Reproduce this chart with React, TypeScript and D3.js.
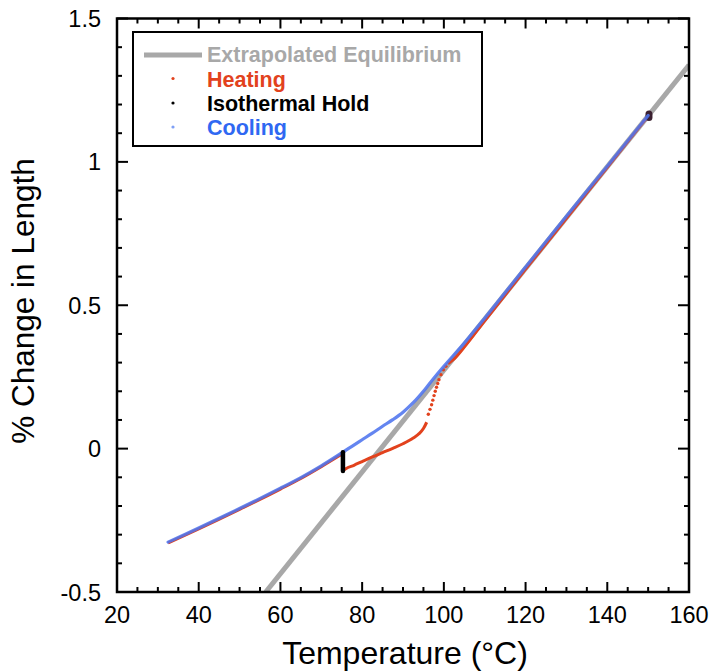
import React from "react";
import * as d3 from "d3";

// Dilatometry of a glass-forming sample: % change in length vs temperature
const xTicks = [20, 40, 60, 80, 100, 120, 140, 160];
const yTicks = [-0.5, 0, 0.5, 1, 1.5];
const yTickLabels = ["-0.5", "0", "0.5", "1", "1.5"];

// Extrapolated equilibrium (liquid) line
const equilibriumTemp = [56.4, 160];
const equilibriumValue = [-0.5, 1.338];

// Heating: glass branch up to the hold
const heatGlassTemp = [32.5, 40, 50, 60, 65, 70, 75.2];
const heatGlassValue = [-0.329, -0.28, -0.212, -0.141, -0.104, -0.063, -0.018];

// Heating after the isothermal hold (relaxed glass)
const heatRelaxTemp = [75.5, 76, 78, 80, 82.5, 85, 87.5, 90, 92.5, 94, 95, 95.8];
const heatRelaxValue = [-0.075, -0.07, -0.058, -0.045, -0.029, -0.014, 0.001, 0.017, 0.037, 0.053, 0.07, 0.092];

// Heating through the glass transition (sparse points)
const heatJumpTemp = [96.2, 96.6, 97.0, 97.3, 97.6, 97.9, 98.2, 98.5, 98.8, 99.3, 99.9, 100.5];
const heatJumpValue = [0.12, 0.137, 0.153, 0.169, 0.185, 0.2, 0.214, 0.227, 0.24, 0.258, 0.275, 0.287];

// Heating in the equilibrium liquid
const heatLiquidTemp = [101, 102.3, 105, 110, 120, 130, 140, 150];
const heatLiquidValue = [0.296, 0.31, 0.354, 0.446, 0.626, 0.803, 0.981, 1.16];

// Isothermal holds
const holdLowTemp = [75.3, 75.3];
const holdLowValue = [-0.013, -0.078];
const holdHighTemp = [150.2, 150.2];
const holdHighValue = [1.155, 1.167];

// Cooling from the melt back to room temperature
const coolTemp = [150, 140, 130, 120, 110, 105, 100, 97, 95, 92.5, 90, 87.5, 85, 82.5, 80, 77.5, 75, 70, 65, 60, 50, 40, 32.5];
const coolValue = [1.162, 0.985, 0.81, 0.633, 0.455, 0.368, 0.287, 0.236, 0.2, 0.16, 0.127, 0.101, 0.078, 0.054, 0.031, 0.008, -0.015, -0.06, -0.101, -0.138, -0.209, -0.277, -0.326];

const W = 715;
const H = 671;
const left = 117;
const right = 689;
const top = 18.5;
const bottom = 592;

const FONT = "'Liberation Sans', Arial, Helvetica, sans-serif";
const RED = "#e2421d";
const BLUE = "#4f74ee";
const GRAY = "#a8a8a8";

const pairs = (xs: number[], ys: number[]) => xs.map((t, i) => [t, ys[i]] as [number, number]);

export default function App() {
  const x = d3.scaleLinear().domain([20, 160]).range([left, right]);
  const y = d3.scaleLinear().domain([-0.5, 1.5]).range([bottom, top]);

  const line = d3
    .line<[number, number]>()
    .x((d) => x(d[0]))
    .y((d) => y(d[1]))
    .curve(d3.curveMonotoneX);
  const straight = d3
    .line<[number, number]>()
    .x((d) => x(d[0]))
    .y((d) => y(d[1]));
  const coolLine = d3
    .line<[number, number]>()
    .x((d) => x(d[0]))
    .y((d) => y(d[1]))
    .curve(d3.curveCatmullRom);

  const xMinor = d3.range(20, 160.1, 5);
  const yMinor = d3.range(-0.5, 1.501, 0.1);

  const legendRows = [
    { label: "Extrapolated Equilibrium", color: GRAY, base: 62, kind: "line" },
    { label: "Heating", color: RED, base: 86.5, kind: "dot", dotY: 78.5, dotColor: RED },
    { label: "Isothermal Hold", color: "#000", base: 110.5, kind: "dot", dotY: 103, dotColor: "#000" },
    { label: "Cooling", color: "#2f68f2", base: 134.5, kind: "dot", dotY: 127, dotColor: "#7fa0f5" },
  ];

  return (
    <svg
      width={W}
      height={H}
      style={{ position: "absolute", left: 0, top: 0, background: "#fff" }}
      fontFamily={FONT}
    >
      <defs>
        <clipPath id="plot">
          <rect x={left} y={top} width={right - left} height={bottom - top} />
        </clipPath>
      </defs>

      <g clipPath="url(#plot)">
        <path
          d={straight(pairs(equilibriumTemp, equilibriumValue)) || ""}
          stroke={GRAY}
          strokeWidth={5}
          fill="none"
        />
        <path d={line(pairs(heatGlassTemp, heatGlassValue)) || ""} stroke={RED} strokeWidth={3} fill="none" />
        <path d={line(pairs(heatRelaxTemp, heatRelaxValue)) || ""} stroke={RED} strokeWidth={3} fill="none" />
        {pairs(heatJumpTemp, heatJumpValue).map((d, i) => (
          <circle key={i} cx={x(d[0])} cy={y(d[1])} r={1.7} fill={RED} />
        ))}
        <path d={line(pairs(heatLiquidTemp, heatLiquidValue)) || ""} stroke={RED} strokeWidth={3} fill="none" />
        <path
          d={straight(pairs(holdHighTemp, holdHighValue)) || ""}
          stroke="#3b2030"
          strokeWidth={7}
          strokeLinecap="round"
          fill="none"
        />
        <path
          d={coolLine(pairs(coolTemp, coolValue)) || ""}
          stroke={BLUE}
          strokeWidth={3.2}
          strokeOpacity={0.88}
          fill="none"
          strokeLinecap="round"
        />
        <path
          d={straight(pairs(holdLowTemp, holdLowValue)) || ""}
          stroke="#000"
          strokeWidth={4.5}
          strokeLinecap="round"
          fill="none"
        />
      </g>

      {/* frame */}
      <rect x={left} y={top} width={right - left} height={bottom - top} fill="none" stroke="#000" strokeWidth={2.5} />

      {/* x ticks, top and bottom, inward */}
      {xMinor.map((t) => {
        const major = xTicks.includes(Math.round(t));
        const len = major ? 10 : 5;
        return (
          <g key={"xt" + t}>
            <line x1={x(t)} x2={x(t)} y1={bottom} y2={bottom - len} stroke="#000" strokeWidth={2} />
            <line x1={x(t)} x2={x(t)} y1={top} y2={top + len} stroke="#000" strokeWidth={2} />
          </g>
        );
      })}
      {/* y ticks, left and right, inward */}
      {yMinor.map((v) => {
        const r = Math.round(v * 10) / 10;
        const major = yTicks.some((t) => Math.abs(t - r) < 1e-6);
        const len = major ? 11 : 5;
        return (
          <g key={"yt" + r}>
            <line x1={left} x2={left + len} y1={y(r)} y2={y(r)} stroke="#000" strokeWidth={2} />
            <line x1={right} x2={right - len} y1={y(r)} y2={y(r)} stroke="#000" strokeWidth={2} />
          </g>
        );
      })}

      {/* tick labels */}
      {xTicks.map((t) => (
        <text key={"xl" + t} x={x(t)} y={623} textAnchor="middle" fontSize={23.5} fill="#000">
          {t}
        </text>
      ))}
      {yTicks.map((t, i) => (
        <text key={"yl" + t} x={101} y={y(t) + 8.5} textAnchor="end" fontSize={23.5} fill="#000">
          {yTickLabels[i]}
        </text>
      ))}

      {/* axis titles */}
      <text x={405} y={664} textAnchor="middle" fontSize={32} fill="#000">
        Temperature (°C)
      </text>
      <text transform="translate(34,301) rotate(-90)" textAnchor="middle" fontSize={31.5} fill="#000">
        % Change in Length
      </text>

      {/* legend */}
      <rect x={133} y={32} width={349} height={114} fill="#fff" stroke="#000" strokeWidth={2} />
      {legendRows.map((r) => (
        <g key={r.label}>
          {r.kind === "line" ? (
            <line x1={144} x2={202} y1={55} y2={55} stroke={GRAY} strokeWidth={5} />
          ) : (
            <circle cx={173} cy={r.dotY} r={1.6} fill={r.dotColor} />
          )}
          <text x={207} y={r.base} fontSize={21.5} fontWeight="bold" fill={r.color}>
            {r.label}
          </text>
        </g>
      ))}
    </svg>
  );
}
